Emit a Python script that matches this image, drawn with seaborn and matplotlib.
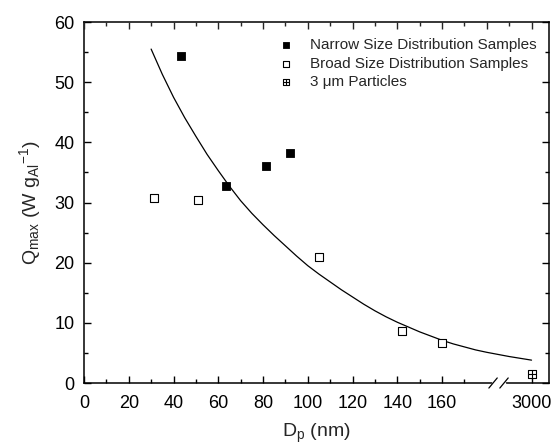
import numpy as np
import matplotlib
matplotlib.use("Agg")
import matplotlib.pyplot as plt
import seaborn as sns
from matplotlib.path import Path
from matplotlib.ticker import FixedLocator, MultipleLocator, NullFormatter

# ---------------- data ----------------
narrow_dp = [43.4, 63.3, 81.2, 92.1]
narrow_q = [54.4, 32.8, 36.1, 38.2]

broad_dp = [31.1, 51.1, 105.2, 142.0, 159.9]
broad_q = [30.7, 30.4, 20.9, 8.6, 6.7]

micro_dp = [3000]
micro_q = [1.5]

fit_dp = [30, 35, 40, 45, 50, 55, 60, 65, 70, 75, 80, 85, 90, 95, 100, 105, 110,
          115, 120, 125, 130, 135, 140, 145, 150, 155, 160, 165, 170, 175, 180,
          885, 1590, 2295, 3000]
fit_q = [55.5, 51.3, 47.5, 44.1, 41.0, 38.0, 35.3, 32.7, 30.3, 28.2, 26.3, 24.5,
         22.8, 21.1, 19.5, 18.1, 16.8, 15.5, 14.3, 13.1, 12.0, 11.0, 10.1, 9.3,
         8.5, 7.8, 7.1, 6.5, 6.0, 5.5, 5.1, 4.75, 4.4, 4.1, 3.8]

x_major = [0, 20, 40, 60, 80, 100, 120, 140, 160, 3000]
x_major_labels = ["0", "20", "40", "60", "80", "100", "120", "140", "160", "3000"]
x_minor = [10, 30, 50, 70, 90, 110, 130, 150, 170]

series_labels = ["Narrow Size Distribution Samples",
                 "Broad Size Distribution Samples",
                 "3 \u03bcm Particles"]

# ---------------- broken x scale ----------------
BREAK = 180.0
SQUEEZE = (3000.0 - BREAK) / 20.0


def fwd(x):
    x = np.asarray(x, dtype=float)
    return np.where(x <= BREAK, x, BREAK + (x - BREAK) / SQUEEZE)


def inv(y):
    y = np.asarray(y, dtype=float)
    return np.where(y <= BREAK, y, BREAK + (y - BREAK) * SQUEEZE)


sns.set_style("ticks")
plt.rcParams["font.family"] = ["Liberation Sans", "DejaVu Sans"]
plt.rcParams["mathtext.default"] = "regular"

fig = plt.figure(figsize=(5.54, 4.47), dpi=100)
ax = fig.add_axes([84 / 554, (447 - 383) / 447, (549 - 84) / 554, (383 - 22) / 447])
ax.set_xscale("function", functions=(fwd, inv))

# crossed square marker
cross_sq = Path(
    [(-1, -1), (1, -1), (1, 1), (-1, 1), (-1, -1), (0, -1), (0, 1), (-1, 0), (1, 0)],
    [Path.MOVETO, Path.LINETO, Path.LINETO, Path.LINETO, Path.CLOSEPOLY,
     Path.MOVETO, Path.LINETO, Path.MOVETO, Path.LINETO],
)

sns.lineplot(x=fit_dp, y=fit_q, ax=ax, color="black", linewidth=0.9,
             sort=False, estimator=None, legend=False)

sns.scatterplot(x=narrow_dp, y=narrow_q, ax=ax, marker="s", s=36,
                color="black", edgecolor="black", linewidth=0.6,
                label=series_labels[0], zorder=3)
sns.scatterplot(x=broad_dp, y=broad_q, ax=ax, marker="s", s=36,
                facecolor="white", edgecolor="black", linewidth=0.8,
                label=series_labels[1], zorder=3)
sns.scatterplot(x=micro_dp, y=micro_q, ax=ax, marker=cross_sq, s=30,
                facecolor="white", edgecolor="black", linewidth=0.8,
                label=series_labels[2], zorder=3)

ax.set_xlim(0, float(inv(207.8)))
ax.set_ylim(0, 60)

ax.xaxis.set_major_locator(FixedLocator(x_major))
ax.set_xticklabels(x_major_labels)
ax.xaxis.set_minor_locator(FixedLocator(x_minor))
ax.xaxis.set_minor_formatter(NullFormatter())
ax.yaxis.set_major_locator(MultipleLocator(10))
ax.yaxis.set_minor_locator(MultipleLocator(5))

ax.tick_params(axis="both", which="both", direction="in", top=False, right=True,
               labelsize=13, width=1.0, colors="black")
ax.tick_params(which="major", length=5)
ax.tick_params(which="minor", length=3)
ax.tick_params(axis="x", pad=9)
ax.tick_params(axis="y", pad=7)

for sp in ax.spines.values():
    sp.set_visible(True)
    sp.set_linewidth(1.1)
    sp.set_color("black")

# top ticks on a twin axis (continuous display units)
ax2 = ax.twiny()
ax2.set_xlim(0, 207.8)
ax2.xaxis.set_major_locator(MultipleLocator(20))
ax2.xaxis.set_minor_locator(MultipleLocator(10))
ax2.tick_params(axis="x", which="both", direction="in", labeltop=False, width=1.0)
ax2.tick_params(which="major", length=5)
ax2.tick_params(which="minor", length=3)
for sp in ax2.spines.values():
    sp.set_visible(False)

# axis break marks
b1, b2 = 182.8 / 207.8, 187.7 / 207.8
ax.plot([b1, b2], [0, 0], transform=ax.transAxes, color="white", linewidth=2.5,
        clip_on=False, zorder=5)
for b in (b1, b2):
    ax.plot([b - 0.009, b + 0.009], [-0.014, 0.014], transform=ax.transAxes,
            color="black", linewidth=0.9, clip_on=False, zorder=6)

ax.set_xlabel("D$_{p}$ (nm)", fontsize=14, labelpad=6.5)
ax.set_ylabel("Q$_{max}$ (W g$_{Al}$$^{-1}$)", fontsize=14, labelpad=8)

leg = ax.legend(loc="upper left", bbox_to_anchor=(0.395, 0.985), frameon=False,
                fontsize=11, handletextpad=1.1, labelspacing=0.3,
                markerscale=0.8, borderaxespad=0.3, handlelength=1.0)

fig.savefig("out.png", dpi=100)
